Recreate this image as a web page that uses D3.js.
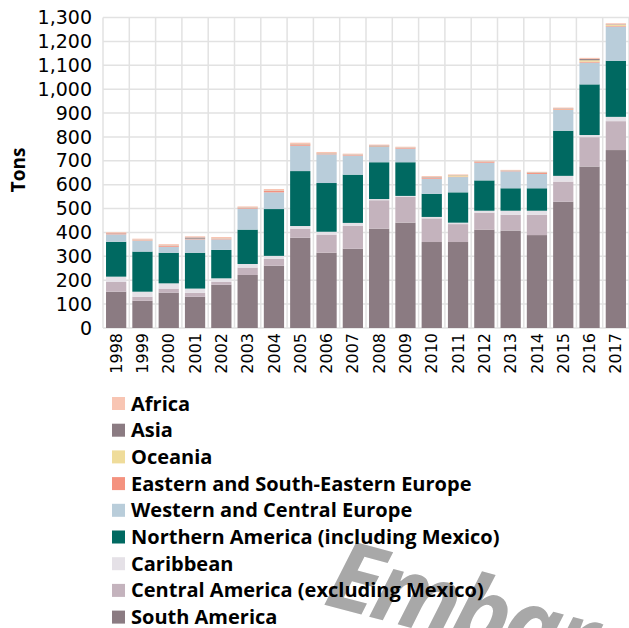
<!DOCTYPE html>
<html lang="en">
<head>
  <meta charset="UTF-8">
  <title>Tons by region</title>
  <script src="https://d3js.org/d3.v7.min.js"></script>
  <style>
    body { margin: 0; background: #fff; }
    svg { display: block; }
  </style>
</head>
<body>
<div id="chart"></div>
<script>
  // data
  var years = ["1998", "1999", "2000", "2001", "2002", "2003", "2004", "2005", "2006", "2007",
               "2008", "2009", "2010", "2011", "2012", "2013", "2014", "2015", "2016", "2017"];
  var southAmerica    = [152, 114, 148, 131, 181, 222, 261, 378, 315, 332, 416, 441, 360, 360, 412, 408, 389, 529, 676, 745];
  var centralAmerica  = [42, 17, 17, 16, 13, 31, 29, 38, 76, 96, 119, 108, 99, 75, 71, 66, 85, 84, 123, 121];
  var caribbean       = [21, 21, 22, 18, 14, 15, 12, 11, 12, 12, 5, 4, 6, 6, 8, 17, 17, 24, 9, 18];
  var northernAmerica = [146, 168, 128, 150, 119, 144, 196, 230, 204, 202, 154, 141, 97, 127, 127, 94, 94, 189, 212, 235];
  var westernEurope   = [31, 46, 25, 56, 44, 88, 70, 106, 120, 80, 64, 57, 63, 64, 74, 71, 60, 87, 91, 143];
  var easternEurope   = [4, 2, 4, 2, 2, 3, 6, 5, 3, 3, 2, 3, 3, 2, 3, 2, 5, 3, 4, 3];
  var oceania         = [0, 1, 1, 1, 1, 1, 1, 1, 1, 1, 1, 1, 1, 5, 1, 1, 1, 1, 6, 4];
  var asia            = [1, 1, 1, 5, 1, 1, 1, 1, 1, 1, 3, 1, 2, 1, 1, 1, 1, 2, 5, 2];
  var africa          = [4, 4, 5, 5, 6, 4, 6, 6, 5, 3, 4, 3, 5, 3, 3, 2, 2, 4, 5, 5];
  var yTicks = [0, 100, 200, 300, 400, 500, 600, 700, 800, 900, 1000, 1100, 1200, 1300];

  // series from bottom of the stack to the top
  var series = [
    { name: "South America", values: southAmerica, color: "#8b7b82" },
    { name: "Central America (excluding Mexico)", values: centralAmerica, color: "#c4b3bd" },
    { name: "Caribbean", values: caribbean, color: "#e5e1e7" },
    { name: "Northern America (including Mexico)", values: northernAmerica, color: "#006961" },
    { name: "Western and Central Europe", values: westernEurope, color: "#b9cdda" },
    { name: "Eastern and South-Eastern Europe", values: easternEurope, color: "#f4927f" },
    { name: "Oceania", values: oceania, color: "#efdc9a" },
    { name: "Asia", values: asia, color: "#8b7b82" },
    { name: "Africa", values: africa, color: "#f8c5b3" }
  ];

  // table for d3.stack
  var table = years.map(function(y, i) {
    var row = { year: y };
    series.forEach(function(s) { row[s.name] = s.values[i]; });
    return row;
  });

  var W = 629, H = 628;
  var plot = { left: 103, right: 629, top: 17.5, bottom: 328 };

  var svg = d3.select("#chart").append("svg")
    .attr("width", W)
    .attr("height", H);

  var x = d3.scaleBand()
    .domain(years)
    .range([plot.left, plot.right])
    .paddingInner(0.23)
    .paddingOuter(0.115);

  var y = d3.scaleLinear()
    .domain([0, 1300])
    .range([plot.bottom, plot.top]);

  // grid
  var grid = svg.append("g").attr("stroke", "#e2e2e2").attr("stroke-width", 1.5);
  grid.selectAll(".h").data(yTicks).enter().append("line")
    .attr("x1", plot.left).attr("x2", plot.right)
    .attr("y1", function(d) { return y(d); })
    .attr("y2", function(d) { return y(d); });
  var step = x.step();
  grid.selectAll(".v").data(d3.range(years.length + 1)).enter().append("line")
    .attr("x1", function(i) { return plot.left + i * step; })
    .attr("x2", function(i) { return plot.left + i * step; })
    .attr("y1", plot.top).attr("y2", plot.bottom);

  // stacked bars
  var stack = d3.stack().keys(series.map(function(s) { return s.name; }));
  var layers = stack(table);

  svg.selectAll(".layer")
    .data(layers)
    .enter().append("g")
    .attr("fill", function(d, i) { return series[i].color; })
    .selectAll("rect")
    .data(function(d) { return d; })
    .enter().append("rect")
    .attr("x", function(d) { return x(d.data.year); })
    .attr("width", x.bandwidth())
    .attr("y", function(d) { return y(d[1]); })
    .attr("height", function(d) { return y(d[0]) - y(d[1]); });

  // y axis labels
  var yAxis = svg.append("g")
    .attr("transform", "translate(" + plot.left + ",0)")
    .call(d3.axisLeft(y).tickValues(yTicks).tickSize(0).tickPadding(11).tickFormat(d3.format(",")));
  yAxis.select(".domain").remove();
  yAxis.selectAll("text")
    .attr("font-family", "DejaVu Sans")
    .attr("font-size", 19)
    .attr("fill", "#000");

  // x axis labels, rotated
  var xAxis = svg.append("g")
    .attr("transform", "translate(0," + plot.bottom + ")")
    .call(d3.axisBottom(x).tickSize(0));
  xAxis.select(".domain").remove();
  xAxis.selectAll("text")
    .attr("font-family", "DejaVu Sans")
    .attr("font-size", 16)
    .attr("fill", "#000")
    .attr("text-anchor", "end")
    .attr("transform", "rotate(-90)")
    .attr("x", -5)
    .attr("y", 0)
    .attr("dy", "0.35em");

  // axis title
  svg.append("text")
    .attr("transform", "translate(25,170) rotate(-90)")
    .attr("text-anchor", "middle")
    .attr("font-family", "Open Sans")
    .attr("font-weight", "bold")
    .attr("font-size", 19)
    .text("Tons");

  // watermark, partly off the page like in the original
  svg.append("text")
    .attr("transform", "translate(322,604) rotate(15)")
    .attr("font-family", "Open Sans")
    .attr("font-weight", "bold")
    .attr("font-style", "italic")
    .attr("font-size", 96)
    .attr("letter-spacing", -5)
    .attr("fill", "#a8a8a8")
    .text("Embargo");

  // legend, top of stack first
  var legendItems = series.slice().reverse();
  var legend = svg.selectAll(".legend")
    .data(legendItems)
    .enter().append("g")
    .attr("transform", function(d, i) { return "translate(112," + (403.5 + i * 26.7) + ")"; });

  legend.append("rect")
    .attr("y", -6.5)
    .attr("width", 13)
    .attr("height", 13)
    .attr("fill", function(d) { return d.color; });

  legend.append("text")
    .attr("x", 19)
    .attr("dy", "0.35em")
    .attr("font-family", "Open Sans")
    .attr("font-weight", "bold")
    .attr("font-size", 20)
    .attr("fill", "#000")
    .text(function(d) { return d.name; });
</script>
</body>
</html>
